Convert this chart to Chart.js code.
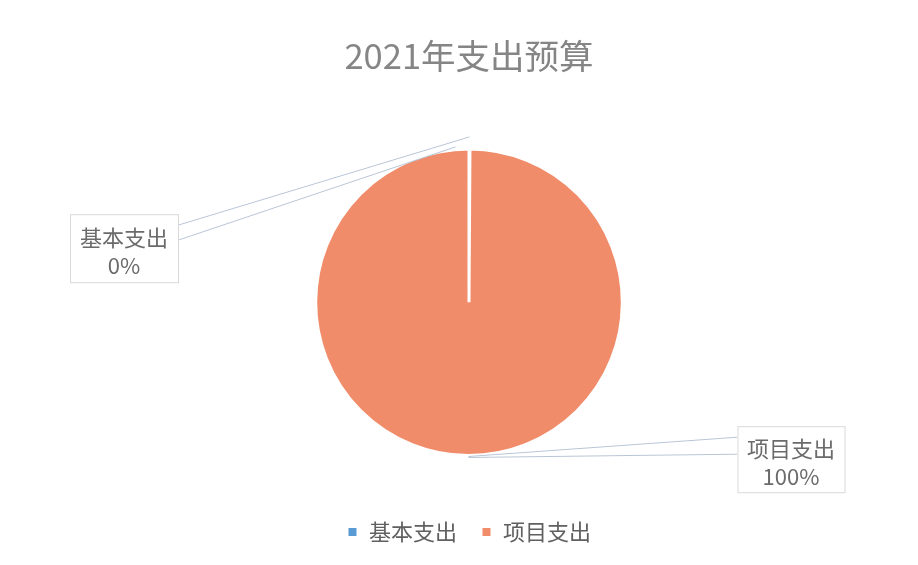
<!DOCTYPE html>
<html>
<head>
<meta charset="utf-8">
<script src="https://cdn.jsdelivr.net/npm/chart.js@4.4.0/dist/chart.umd.min.js"></script>
<style>
  html, body { margin: 0; padding: 0; background: #ffffff; }
  #wrap { width: 918px; height: 565px; position: relative; }
</style>
</head>
<body>
<div id="wrap"><canvas id="c" width="918" height="565"></canvas></div>
<script>
const chartTitle = '2021年支出预算';
const categories = ['基本支出', '项目支出'];
const values = [0.1, 99.9];
const sliceColors = ['#5B9BD5', '#F08C69'];

const FONT = "'Noto Sans CJK SC', 'Noto Sans', sans-serif";

const calloutPlugin = {
  id: 'callouts',
  afterDatasetsDraw(chart, args, opts) {
    const ctx = chart.ctx;
    const meta = chart.getDatasetMeta(0);
    const data = chart.data.datasets[0].data;
    const total = data.reduce((a, b) => a + b, 0);
    meta.data.forEach((arc, i) => {
      const cfg = opts.boxes[i];
      const p = arc.getProps(['x', 'y', 'startAngle', 'endAngle', 'outerRadius'], true);
      const mid = (p.startAngle + p.endAngle) / 2;
      const rr = p.outerRadius + cfg.anchorOffset;
      const ax = p.x + Math.cos(mid) * rr;
      const ay = p.y + Math.sin(mid) * rr;
      const bx = p.x + cfg.dx - cfg.w / 2;
      const by = p.y + cfg.dy - cfg.h / 2;
      ctx.save();
      ctx.strokeStyle = '#B9C6D6';
      ctx.lineWidth = 1;
      const edgeX = cfg.dx < 0 ? bx + cfg.w : bx;
      cfg.lineYs.forEach((ly, k) => {
        ctx.beginPath();
        ctx.moveTo(edgeX, by + ly);
        ctx.lineTo(ax + cfg.endShift[k][0], ay + cfg.endShift[k][1]);
        ctx.stroke();
      });
      ctx.fillStyle = '#ffffff';
      ctx.fillRect(bx, by, cfg.w, cfg.h);
      ctx.strokeStyle = '#D9D9D9';
      ctx.strokeRect(bx + 0.5, by + 0.5, cfg.w, cfg.h);
      ctx.fillStyle = '#6b6b6b';
      ctx.font = '22px ' + FONT;
      ctx.textAlign = 'center';
      ctx.textBaseline = 'middle';
      const pct = Math.round(data[i] / total * 100) + '%';
      ctx.fillText(chart.data.labels[i], bx + cfg.w / 2, by + cfg.h * 0.34);
      ctx.fillText(pct, bx + cfg.w / 2, by + cfg.h * 0.76);
      ctx.restore();
    });
  }
};

new Chart(document.getElementById('c'), {
  type: 'pie',
  data: {
    labels: categories,
    datasets: [{
      data: values,
      backgroundColor: sliceColors,
      borderColor: '#ffffff',
      borderWidth: 3
    }]
  },
  options: {
    responsive: false,
    animation: false,
    layout: { padding: { left: 20, right: 0, top: 0, bottom: 12 } },
    plugins: {
      title: {
        display: true,
        text: chartTitle,
        color: '#858585',
        font: { family: FONT, size: 34.5, weight: 'normal', lineHeight: 1.2 },
        padding: { top: 35, bottom: 71 }
      },
      legend: {
        display: true,
        position: 'bottom',
        title: { display: true, text: '', padding: { top: 30, bottom: 0 }, font: { size: 10, lineHeight: 1 } },
        labels: {
          color: '#606060',
          font: { family: FONT, size: 22 },
          usePointStyle: true,
          pointStyle: 'rect',
          boxWidth: 11,
          boxHeight: 11,
          padding: 24
        }
      },
      tooltip: { enabled: false },
      callouts: {
        boxes: [
          { dx: -345, dy: -54, w: 108, h: 68, anchorOffset: 12, lineYs: [11, 26], endShift: [[0, 0], [-14, 10]] },
          { dx: 322, dy: 157, w: 107, h: 66, anchorOffset: 1, lineYs: [11, 28], endShift: [[0, 0], [0, 1]] }
        ]
      }
    }
  },
  plugins: [calloutPlugin]
});
</script>
</body>
</html>
